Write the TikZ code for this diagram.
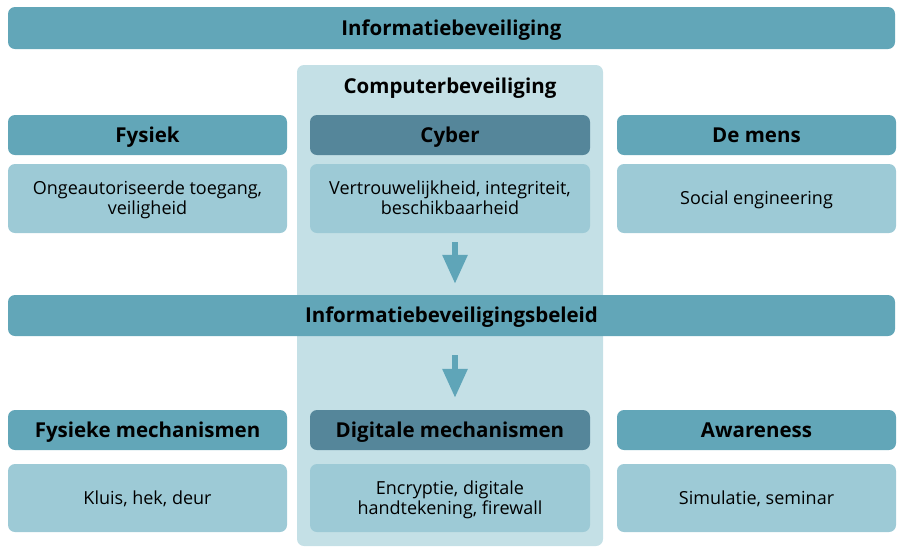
\documentclass[tikz,border=0pt]{standalone}
\usepackage{fontspec}
\setmainfont{Open Sans}
\usetikzlibrary{arrows.meta}
\definecolor{hdr}{HTML}{62A6B8}
\definecolor{hdrdark}{HTML}{55869A}
\definecolor{bodyc}{HTML}{9DCAD6}
\definecolor{bgc}{HTML}{C4E0E6}
\definecolor{arrc}{HTML}{5FA5B8}
\tikzset{
  hdrfont/.style={font=\fontsize{20.5}{22}\selectfont\bfseries, text height=14.6pt, text depth=0pt},
  hdrbox/.style={fill=hdr, rounded corners=7pt, inner sep=0pt, minimum height=40pt, hdrfont, text=black},
  darkbox/.style={hdrbox, fill=hdrdark},
  bodybox/.style={fill=bodyc, rounded corners=7pt, inner sep=0pt, minimum height=69pt, align=center, font=\fontsize{18}{20}\selectfont, text height=12.9pt, text depth=0pt, text=black},
  twoline/.style={text height=32.9pt, text depth=0pt},
  flowarrow/.style={draw=arrc, line width=6pt, -{Triangle[width=24pt,length=29pt]}},
}
\begin{document}
\begin{tikzpicture}[x=1pt,y=-1pt]
\useasboundingbox (0,0) rectangle (900,550);
% computer background
\node (bg) [fill=bgc, rounded corners=7pt, inner sep=0pt, minimum width=306pt, minimum height=481pt] at (450,305.5) {};
\node (cbtitle) [hdrfont, inner sep=0pt] at (450,86.5) {Computerbeveiliging};
% top bar
\node (top) [hdrbox, minimum width=887pt, minimum height=42pt] at (451.5,28) {Informatiebeveiliging};
% row 1
\node (fys) [hdrbox, minimum width=279pt] at (147.5,135) {Fysiek};
\node (cyb) [darkbox, minimum width=280pt] at (450,135) {Cyber};
\node (mens) [hdrbox, minimum width=279pt] at (756.5,135) {De mens};
\node (fysb) [bodybox, twoline, minimum width=279pt] at (147.5,198.5) {Ongeautoriseerde toegang,\\veiligheid};
\node (cybb) [bodybox, twoline, minimum width=280pt] at (450,198.5) {Vertrouwelijkheid, integriteit,\\beschikbaarheid};
\node (mensb) [bodybox, minimum width=279pt] at (756.5,198.5) {Social engineering};
% policy bar
\node (pol) [hdrbox, minimum width=887pt, minimum height=41pt] at (451.5,315.5) {Informatiebeveiligingsbeleid};
% row 2
\node (fysm) [hdrbox, minimum width=279pt] at (147.5,430) {Fysieke mechanismen};
\node (digm) [darkbox, minimum width=280pt] at (450,430) {Digitale mechanismen};
\node (awa) [hdrbox, minimum width=279pt] at (756.5,430) {Awareness};
\node (fysmb) [bodybox, minimum width=279pt, minimum height=68pt] at (147.5,498) {Kluis, hek, deur};
\node (digmb) [bodybox, twoline, minimum width=280pt, minimum height=68pt] at (450,498) {Encryptie, digitale\\handtekening, firewall};
\node (awab) [bodybox, minimum width=279pt, minimum height=68pt] at (756.5,498) {Simulatie, seminar};
% arrows
\draw[flowarrow, shorten <=9pt, shorten >=11pt] (cybb.south -| 455,0) -- (pol.north -| 455,0);
\draw[flowarrow, shorten <=19pt, shorten >=12pt] (pol.south -| 455,0) -- (digm.north -| 455,0);
\end{tikzpicture}
\end{document}
